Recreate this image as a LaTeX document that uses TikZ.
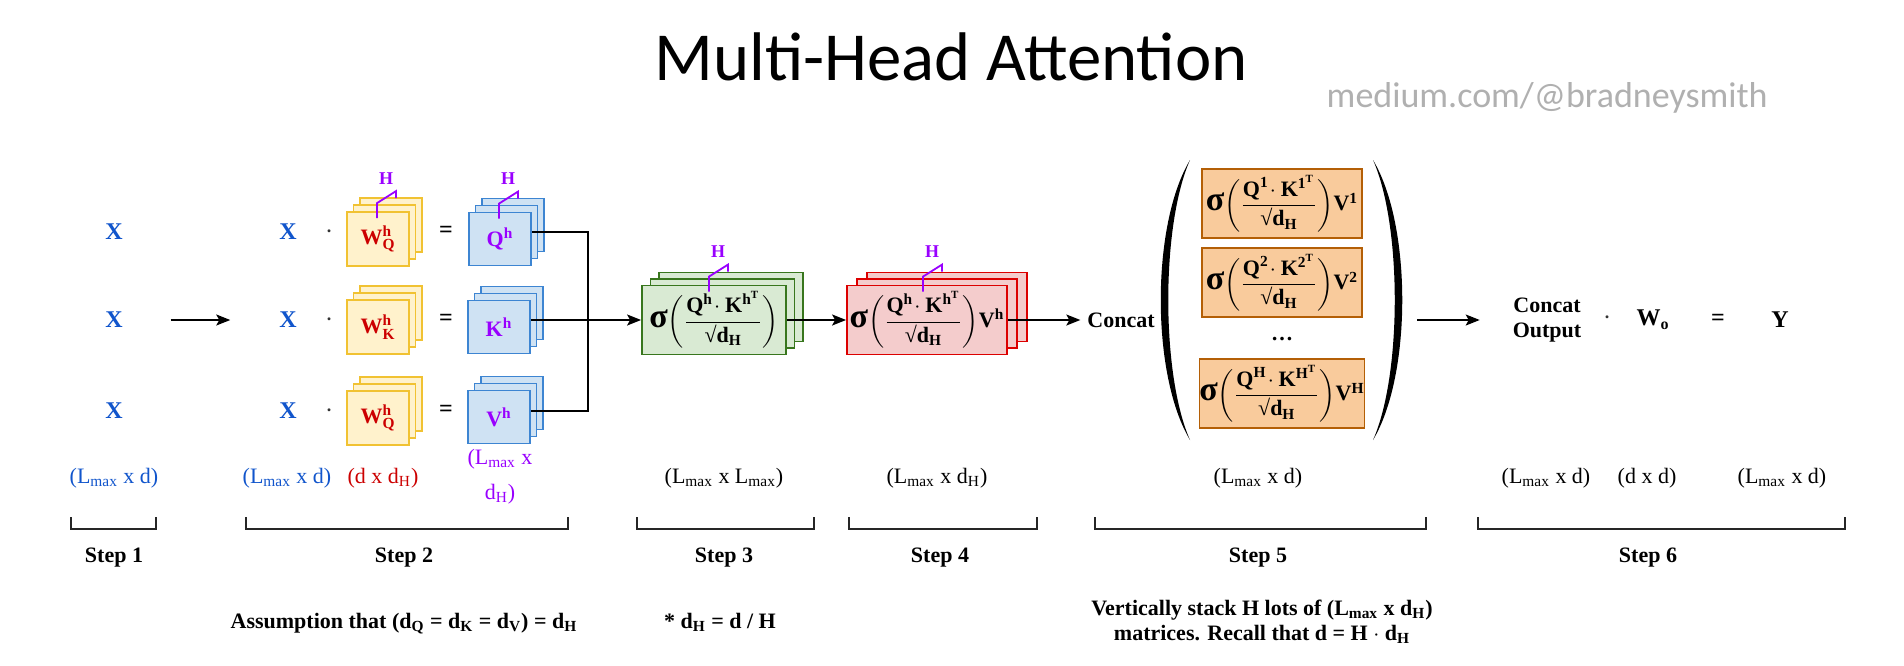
\documentclass[tikz,border=0pt]{standalone}
\usepackage{amsmath}
\usepackage{fontspec}
\setmainfont{Liberation Serif}
\newfontfamily\headfont{Carlito}
\usetikzlibrary{positioning, calc, arrows.meta}

\definecolor{xblue}{RGB}{17,85,204}
\definecolor{wred}{RGB}{204,0,0}
\definecolor{hpurple}{RGB}{153,0,255}
\definecolor{yfill}{RGB}{255,242,204}
\definecolor{ydraw}{RGB}{241,194,50}
\definecolor{bfill}{RGB}{207,226,243}
\definecolor{bdraw}{RGB}{61,133,210}
\definecolor{gfill}{RGB}{217,234,211}
\definecolor{gdraw}{RGB}{56,118,29}
\definecolor{rfill}{RGB}{244,204,204}
\definecolor{rdraw}{RGB}{220,0,0}
\definecolor{ofill}{RGB}{249,203,156}
\definecolor{odraw}{RGB}{180,95,6}
\definecolor{wmgray}{RGB}{176,176,176}

% three stacked boxes, front one named #1
\newcommand{\headstack}[7]{%
  \node[#4] (#1c) at ({#2+2*#5},{#3-2*#6}) {};
  \node[#4] (#1b) at ({#2+#5},{#3-#6}) {};
  \node[#4] (#1) at (#2,#3) {#7};}
% the purple H marker on a stack
\newcommand{\hmark}[2]{%
  \draw[hline] ($(#1.north)+(#2,7)$) -- ++(0,-15) -- ++(19,-12) -- ++(0,7);
  \node[hlab] (#1h) at ($(#1.north)+(#2+9,-33)$) {H};}
\newcommand{\softfrac}[1]{{\fontsize{17}{17}\selectfont σ}$\biggl(\dfrac{\text{Q}^{\text{#1}}\!\cdot\text{K}^{\text{#1}^{\text{T}}}}{\text{√d}_{\text{H}}}\biggr)$}

\begin{document}
\begin{tikzpicture}[x=0.5pt, y=-0.5pt,
  bold/.style={font=\fontsize{11}{12.5}\selectfont\bfseries},
  xlab/.style={font=\fontsize{12}{14}\selectfont\bfseries, text=xblue},
  op/.style={font=\fontsize{12}{14}\selectfont\bfseries},
  dotlab/.style={font=\Large, text=black!80, inner sep=1pt},
  dim/.style={anchor=base, font=\fontsize{11}{13}\selectfont},
  note/.style={anchor=base, font=\fontsize{11}{12.5}\selectfont\bfseries},
  box/.style={line width=0.9pt, inner sep=0pt, font=\fontsize{11}{13}\selectfont\bfseries},
  wbox/.style={box, draw=ydraw, fill=yfill, text=wred, minimum width=31pt, minimum height=27pt},
  qbox/.style={box, draw=bdraw, fill=bfill, text=hpurple, minimum width=31pt, minimum height=26.5pt},
  gbox/.style={box, draw=gdraw, fill=gfill, minimum width=72pt, minimum height=34.5pt},
  rbox/.style={box, draw=rdraw, fill=rfill, minimum width=80pt, minimum height=34.5pt},
  obox/.style={box, draw=odraw, fill=ofill, minimum width=80pt, minimum height=34.5pt},
  hline/.style={draw=hpurple, line width=0.9pt},
  hlab/.style={font=\fontsize{9}{10}\selectfont\bfseries, text=hpurple, inner sep=0pt},
  link/.style={line width=0.8pt},
  arr/.style={link, -{Stealth[length=7pt, width=5.5pt, inset=1.5pt]}},
  brk/.style={line width=1pt, draw=black!85}]

  \path[fill=white] (0,0) rectangle (1904,665);

  % Title
  \node[anchor=base, font=\headfont\fontsize{34.4}{40}\selectfont] (title) at (951,80) {Multi-Head Attention};
  \node[anchor=base east, inner sep=0pt, text=wmgray, font=\headfont\fontsize{18}{20}\selectfont] (credit) at (1768,107) {medium.com/@bradneysmith};

  % Step 1
  \node[xlab] (xa) at (114,232) {X};
  \node[xlab] (xb) at (114,320) {X};
  \node[xlab] (xc) at (114,411) {X};

  % Step 2
  \node[xlab] (xq) at (288,232) {X};
  \node[xlab] (xk) at (288,320) {X};
  \node[xlab] (xv) at (288,411) {X};
  \node[dotlab] (mq) at (329,232) {$\cdot$};
  \node[dotlab] (mk) at (329,320) {$\cdot$};
  \node[dotlab] (mv) at (329,411) {$\cdot$};
  \headstack{wq}{378}{239}{wbox}{6.5}{7}{W$^{\text{h}}_{\text{Q}}$}
  \headstack{wk}{378}{327}{wbox}{6.5}{7}{W$^{\text{h}}_{\text{K}}$}
  \headstack{wv}{378}{418}{wbox}{6.5}{7}{W$^{\text{h}}_{\text{Q}}$}
  \node[op] (eqq) at (446,232) {=};
  \node[op] (eqk) at (446,320) {=};
  \node[op] (eqv) at (446,411) {=};
  \headstack{q}{500}{239}{qbox}{6.5}{7}{Q$^{\text{h}}$}
  \headstack{k}{499}{327}{qbox}{6.5}{7}{K$^{\text{h}}$}
  \headstack{v}{499}{417}{qbox}{6.5}{7}{V$^{\text{h}}$}
  \hmark{wq}{-1}
  \hmark{q}{-1}

  % Step 3 and 4
  \headstack{g}{714}{320}{gbox}{8.5}{6.5}{\softfrac{h}}
  \headstack{r}{927}{320}{rbox}{10}{6.5}{\softfrac{h}V$^{\text{h}}$}
  \hmark{g}{-5}
  \hmark{r}{-4}

  % Step 5
  \node[bold] (concat) at (1121,320) {Concat};
  \node[obox] (o1) at (1282,203.5) {\softfrac{1}V$^{\text{1}}$};
  \node[obox] (o2) at (1282,282.5) {\softfrac{2}V$^{\text{2}}$};
  \node[bold] (odots) at (1282,339) {\ldots};
  \node[obox] (oh) at (1282,393.5) {\softfrac{H}V$^{\text{H}}$};
  \fill (1190,160) .. controls (1151,225) and (1151,375) .. (1190,440)
        .. controls (1161,375) and (1161,225) .. (1190,160) -- cycle;
  \fill (1373,160) .. controls (1412,225) and (1412,375) .. (1373,440)
        .. controls (1402,375) and (1402,225) .. (1373,160) -- cycle;
  \coordinate (rp) at (1417,320);

  % Step 6
  \node[bold, align=center] (cout) at (1547,320) {Concat\\Output};
  \node[dotlab] (mo) at (1607,318) {$\cdot$};
  \node[op] (wo) at (1653,320) {W\textsubscript{o}};
  \node[op] (eqo) at (1718,320) {=};
  \node[op] (y) at (1780,320) {Y};

  % Connectors
  \coordinate (jn) at (588,320);
  \draw[arr, shorten <=20.5pt, shorten >=21pt] (xb) -- (xk);
  \draw[link] (q.east |- xq) -| (jn) |- (v.east |- xv);
  \draw[arr] (k.east |- xk) -- (g.west);
  \draw[arr] (g) -- (r);
  \draw[arr] (r) -- (concat);
  \draw[arr, shorten >=13pt] (rp) -- (cout);

  % Dimensions
  \node[dim, text=xblue] (d1) at (114,483) {(L\textsubscript{max} x d)};
  \node[dim, text=xblue] (d2x) at (287,483) {(L\textsubscript{max} x d)};
  \node[dim, text=wred] (d2w) at (383,483) {(d x d\textsubscript{H})};
  \node[dim, text=hpurple] (d2q) at (500,464) {(L\textsubscript{max} x};
  \node[dim, text=hpurple] (d2qb) at (500,499) {d\textsubscript{H})};
  \node[dim] (d3) at (724,483) {(L\textsubscript{max} x L\textsubscript{max})};
  \node[dim] (d4) at (937,483) {(L\textsubscript{max} x d\textsubscript{H})};
  \node[dim] (d5) at (1258,483) {(L\textsubscript{max} x d)};
  \node[dim] (d6a) at (1546,483) {(L\textsubscript{max} x d)};
  \node[dim] (d6b) at (1647,483) {(d x d)};
  \node[dim] (d6c) at (1782,483) {(L\textsubscript{max} x d)};

  % Step brackets
  \draw[brk] (71,517) |- (156,529) -- (156,517);
  \draw[brk] (246,517) |- (568,529) -- (568,517);
  \draw[brk] (637,517) |- (814,529) -- (814,517);
  \draw[brk] (849,517) |- (1037,529) -- (1037,517);
  \draw[brk] (1095,517) |- (1426,529) -- (1426,517);
  \draw[brk] (1478,517) |- (1845,529) -- (1845,517);
  \node[note] (s1) at (114,562) {Step 1};
  \node[note] (s2) at (404,562) {Step 2};
  \node[note] (s3) at (724,562) {Step 3};
  \node[note] (s4) at (940,562) {Step 4};
  \node[note] (s5) at (1258,562) {Step 5};
  \node[note] (s6) at (1648,562) {Step 6};

  % Notes
  \node[note] (n2) at (404,628) {Assumption that (d\textsubscript{Q} = d\textsubscript{K} = d\textsubscript{V}) = d\textsubscript{H}};
  \node[note] (n3) at (720,628) {* d\textsubscript{H} = d / H};
  \node[note] (n5a) at (1262,615) {Vertically stack H lots of (L\textsubscript{max} x d\textsubscript{H})};
  \node[note] (n5b) at (1262,640) {matrices. Recall that d = H $\cdot$ d\textsubscript{H}};
\end{tikzpicture}
\end{document}
